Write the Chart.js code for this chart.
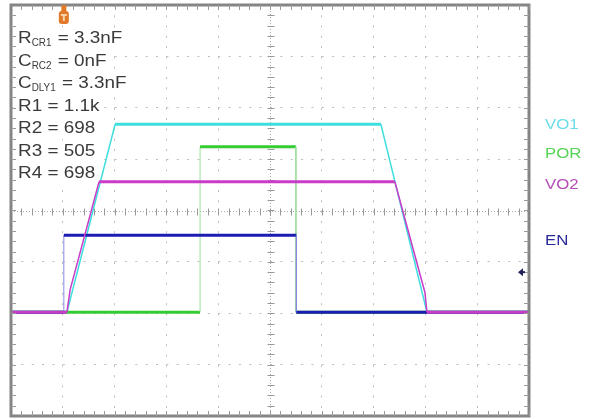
<!DOCTYPE html>
<html>
<head>
<meta charset="utf-8">
<title>Power-up / power-down sequence</title>
<script src="https://cdn.jsdelivr.net/npm/chart.js@4.4.1/dist/chart.umd.min.js"></script>
<style>
    body { margin: 0; background: #fff; }
    canvas { display: block; }
</style>
</head>
<body>
<canvas id="scope" width="613" height="419"></canvas>
<script>
// =====================================
// DATA (time and level in scope divisions)
// =====================================

const seriesNames = ["VO1", "POR", "VO2", "EN"];

const vo1Time  = [0, 1.08, 2.01, 7.14, 8.03, 10];
const vo1Level = [-1.98, -1.98, 1.68, 1.68, -1.98, -1.98];

const porTime  = [0, 3.65, 3.65, 5.5, 5.5, 10];
const porLevel = [-1.98, -1.98, 1.24, 1.24, -1.98, -1.98];

const vo2Time  = [0, 1.08, 1.14, 1.70, 7.41, 7.99, 8.03, 10];
const vo2Level = [-1.98, -1.98, -1.55, 0.56, 0.56, -1.59, -1.98, -1.98];

const enTime  = [0, 1.02, 1.02, 5.51, 5.51, 10];
const enLevel = [-1.98, -1.98, -0.48, -0.48, -1.98, -1.98];

const triggerTime = 1.02;
const triggerLevel = -1.2;

const noteMain = ["R", "C", "C", "R1", "R2", "R3", "R4"];
const noteSub  = ["CR1", "RC2", "DLY1", "", "", "", ""];
const noteRest = [" = 3.3nF", " = 0nF", " = 3.3nF", " = 1.1k", " = 698", " = 505", " = 698"];

// =====================================
// STYLE
// =====================================

const traceColor = ["#3fdede", "#33cc33", "#c83cc8", "#1c1cb4"];
const edgeColor  = ["#9eeeee", "#9be09b", "#d9a0e0", "#8a8ae6"];
const labelColor = ["#6cdce6", "#55d455", "#b84cb8", "#2a2a9a"];
const labelY     = [129, 158, 189, 245];
const drawOrder  = [4, 3, 1, 2];

const stretch = 1.18;
const font = "'Liberation Sans', Arial, sans-serif";

function toPoints(t, v) {
    return t.map((x, i) => ({ x: x, y: v[i] }));
}

function segmentStyle(i) {
    return {
        borderWidth: c => {
            if (c.p0.parsed.x === c.p1.parsed.x) return 1;
            if (c.p0.parsed.y === c.p1.parsed.y) return 3;
            return 1.5;
        },
        borderColor: c => c.p0.parsed.x === c.p1.parsed.x ? edgeColor[i] : traceColor[i]
    };
}

const seriesPoints = [
    toPoints(vo1Time, vo1Level),
    toPoints(porTime, porLevel),
    toPoints(vo2Time, vo2Level),
    toPoints(enTime, enLevel)
];

// =====================================
// SCOPE DECORATION PLUGIN
// =====================================

function stretchedText(ctx, text, x, y, sx) {
    ctx.save();
    ctx.translate(x, y);
    ctx.scale(sx, 1);
    ctx.fillText(text, 0, 0);
    ctx.restore();
}

const scopePlugin = {

    id: "scope",

    beforeDatasetsDraw(chart) {

        const ctx = chart.ctx;
        const a = chart.chartArea;
        const xs = chart.scales.x;
        const ys = chart.scales.y;

        const cx = Math.round(xs.getPixelForValue(5)) + 0.5;
        const cy = Math.round(ys.getPixelForValue(0)) + 0.5;

        ctx.save();

        // center cross, dotted
        ctx.strokeStyle = "#aaaaaa";
        ctx.lineWidth = 1;
        ctx.setLineDash([1, 2]);
        ctx.beginPath();
        ctx.moveTo(a.left, cy);
        ctx.lineTo(a.right, cy);
        ctx.moveTo(cx, a.top);
        ctx.lineTo(cx, a.bottom);
        ctx.stroke();
        ctx.setLineDash([]);

        // minor ticks on center cross
        ctx.strokeStyle = "#999999";
        ctx.beginPath();
        for (let t = 0.2; t < 10; t += 0.2) {
            const px = Math.round(xs.getPixelForValue(t)) + 0.5;
            ctx.moveTo(px, cy - 3);
            ctx.lineTo(px, cy + 4);
        }
        for (let t = -3.8; t < 4; t += 0.2) {
            const py = Math.round(ys.getPixelForValue(t)) + 0.5;
            ctx.moveTo(cx - 3, py);
            ctx.lineTo(cx + 4, py);
        }
        ctx.stroke();

        // notes with white backing
        ctx.textBaseline = "alphabetic";
        for (let i = 0; i < noteMain.length; i++) {

            const base = 43 + i * 22.5;
            const x0 = 18;

            ctx.font = "16px " + font;
            const wMain = ctx.measureText(noteMain[i]).width * stretch;
            const wRest = ctx.measureText(noteRest[i]).width * stretch;
            ctx.font = "11px " + font;
            const wSub = noteSub[i] ? ctx.measureText(noteSub[i]).width * 0.9 + 1 : 0;

            ctx.fillStyle = "#ffffff";
            ctx.fillRect(x0 - 3, base - 15, wMain + wSub + wRest + 5, 21);

            ctx.fillStyle = "#3a3a3a";
            ctx.font = "16px " + font;
            stretchedText(ctx, noteMain[i], x0, base, stretch);
            if (noteSub[i]) {
                ctx.font = "11px " + font;
                stretchedText(ctx, noteSub[i], x0 + wMain, base + 3, 0.9);
            }
            ctx.font = "16px " + font;
            stretchedText(ctx, noteRest[i], x0 + wMain + wSub, base, stretch);
        }

        ctx.restore();
    },

    afterDatasetsDraw(chart) {

        const ctx = chart.ctx;
        const a = chart.chartArea;
        const xs = chart.scales.x;
        const ys = chart.scales.y;

        ctx.save();

        // frame
        ctx.strokeStyle = "#858585";
        ctx.lineWidth = 3;
        ctx.strokeRect(a.left, a.top, a.right - a.left, a.bottom - a.top);

        // minor ticks along frame
        ctx.strokeStyle = "#9a9a9a";
        ctx.lineWidth = 1;
        ctx.beginPath();
        for (let t = 0.2; t < 10; t += 0.2) {
            const px = Math.round(xs.getPixelForValue(t)) + 0.5;
            ctx.moveTo(px, a.top);
            ctx.lineTo(px, a.top + 5);
            ctx.moveTo(px, a.bottom);
            ctx.lineTo(px, a.bottom - 5);
        }
        for (let t = -3.8; t < 4; t += 0.2) {
            const py = Math.round(ys.getPixelForValue(t)) + 0.5;
            ctx.moveTo(a.left, py);
            ctx.lineTo(a.left + 5, py);
            ctx.moveTo(a.right, py);
            ctx.lineTo(a.right - 5, py);
        }
        ctx.stroke();

        // trigger position marker
        const tx = xs.getPixelForValue(triggerTime);
        ctx.fillStyle = "#e07a2a";
        ctx.fillRect(tx - 2.5, a.top, 5, 7);
        ctx.beginPath();
        ctx.roundRect(tx - 5, a.top + 6, 10, 13, 3);
        ctx.fill();
        ctx.fillStyle = "#f6d2a8";
        ctx.fillRect(tx - 3, a.top + 9, 6, 2);
        ctx.fillRect(tx - 1, a.top + 9, 2, 7);

        // trigger level arrow
        const ly = ys.getPixelForValue(triggerLevel);
        ctx.fillStyle = "#23235a";
        ctx.beginPath();
        ctx.moveTo(a.right - 11, ly);
        ctx.lineTo(a.right - 6, ly - 4);
        ctx.lineTo(a.right - 6, ly + 4);
        ctx.closePath();
        ctx.fill();
        ctx.fillRect(a.right - 7, ly - 1, 3, 2);

        // channel labels
        ctx.font = "14px " + font;
        ctx.textBaseline = "alphabetic";
        seriesNames.forEach((name, i) => {
            ctx.fillStyle = labelColor[i];
            stretchedText(ctx, name, 545, labelY[i], 1.2);
        });

        ctx.restore();
    }
};

// =====================================
// CHART
// =====================================

new Chart(document.getElementById("scope"), {

    type: "line",

    data: {
        datasets: seriesNames.map((name, i) => ({
            label: name,
            data: seriesPoints[i],
            borderColor: traceColor[i],
            borderWidth: 3,
            order: drawOrder[i],
            segment: segmentStyle(i),
            pointRadius: 0,
            tension: 0,
            fill: false
        }))
    },

    options: {

        responsive: false,
        animation: false,

        layout: {
            padding: { left: 11, top: 5, right: 84, bottom: 3 }
        },

        plugins: {
            legend: { display: false },
            tooltip: { enabled: false }
        },

        scales: {

            x: {
                type: "linear",
                min: 0,
                max: 10,
                ticks: { display: false, stepSize: 1 },
                grid: {
                    drawTicks: false,
                    color: c => (c.tick && c.tick.value === 5) ? "rgba(0,0,0,0)" : "#bdbdbd"
                },
                border: { display: false, dash: [2, 8.28] }
            },

            y: {
                min: -4,
                max: 4,
                ticks: { display: false, stepSize: 1 },
                grid: {
                    drawTicks: false,
                    color: c => (c.tick && c.tick.value === 0) ? "rgba(0,0,0,0)" : "#bdbdbd"
                },
                border: { display: false, dash: [2, 8.36] }
            }

        }

    },

    plugins: [scopePlugin]

});
</script>
</body>
</html>
